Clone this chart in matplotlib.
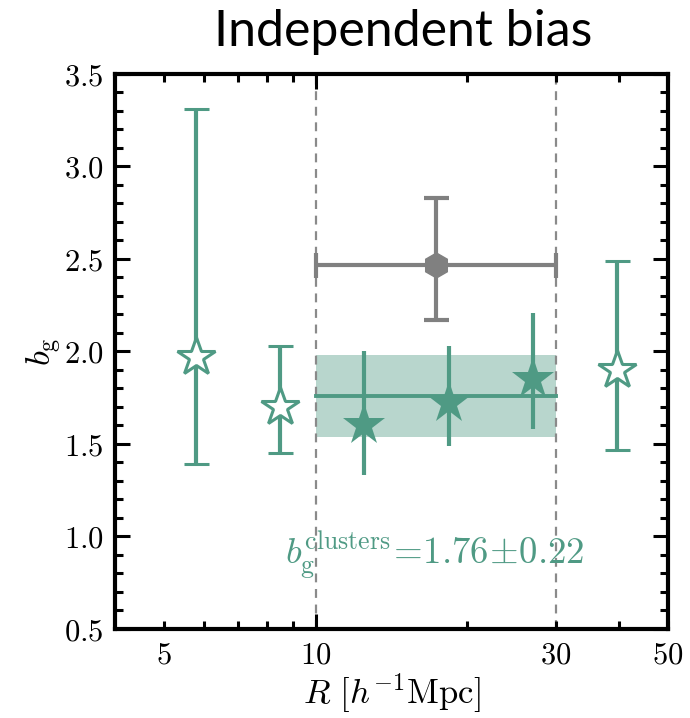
import numpy as np
import matplotlib
matplotlib.use("Agg")
import matplotlib.pyplot as plt
from matplotlib.ticker import FixedLocator, FixedFormatter, MultipleLocator

plt.rcParams['mathtext.fontset'] = 'cm'

# open stars (outside fitting range)
R_open = [5.8, 8.5, 39.7]
b_open = [1.97, 1.70, 1.90]
lo_open = [1.39, 1.45, 1.47]
hi_open = [3.31, 2.03, 2.49]

# filled stars (inside fitting range)
R_fill = [12.5, 18.4, 27.0]
b_fill = [1.60, 1.72, 1.85]
lo_fill = [1.33, 1.49, 1.58]
hi_fill = [2.00, 2.03, 2.21]

# grey hexagon, averaged over 10-30
R_avg = 17.3
R_range = [10, 30]
b_avg = 2.47
lo_avg, hi_avg = 2.17, 2.83

# cluster bias fit
b_cl = 1.76
b_cl_err = 0.22

green = '#4f9a84'
grey = '#808080'

fig = plt.figure(figsize=(6.9, 7.18), dpi=100)
ax = fig.add_axes([0.1667, 0.124, 0.8014, 0.773])

# vertical dashed limits
for r in R_range:
    ax.axvline(r, color='#8a8a8a', ls=(0, (4, 3)), lw=1.6, zorder=1)

# band + line for cluster bias
ax.fill_between(R_range, b_cl - b_cl_err, b_cl + b_cl_err, color=green, alpha=0.4, lw=0, zorder=0)
ax.plot(R_range, [b_cl, b_cl], color=green, lw=2.8, zorder=2)

ebkw = dict(elinewidth=3.0, capsize=9, capthick=3.0, ls='none')

b_open = np.array(b_open)
ax.errorbar(R_open, b_open, yerr=[b_open - lo_open, np.array(hi_open) - b_open],
            color=green, marker='*', ms=29, mfc='white', mec=green, mew=2.2, zorder=3, **ebkw)

b_fill = np.array(b_fill)
ax.errorbar(R_fill, b_fill, yerr=[b_fill - lo_fill, np.array(hi_fill) - b_fill],
            color=green, marker='*', ms=32, mfc=green, mec=green, mew=0, zorder=3, **ebkw)

ax.errorbar([R_avg], [b_avg], yerr=[[b_avg - lo_avg], [hi_avg - b_avg]],
            xerr=[[R_avg - R_range[0]], [R_range[1] - R_avg]],
            color=grey, marker='h', ms=18, mfc=grey, mec=grey, zorder=3, **ebkw)

ax.text(8.7, 0.85, r'$b_{\rm g}^{\rm clusters}\!=\!1.76\!\pm\!0.22$',
        color=green, fontsize=26.5, ha='left', va='baseline', zorder=4)

ax.set_xscale('log')
ax.set_xlim(4, 50)
ax.set_ylim(0.5, 3.5)

ax.xaxis.set_major_locator(FixedLocator([10]))
ax.xaxis.set_major_formatter(FixedFormatter([r'$10$']))
ax.xaxis.set_minor_locator(FixedLocator([5, 6, 7, 8, 9, 20, 30, 40, 50]))
ax.xaxis.set_minor_formatter(FixedFormatter([r'$5$', '', '', '', '', '', r'$30$', '', r'$50$']))

yt = [0.5, 1.0, 1.5, 2.0, 2.5, 3.0, 3.5]
ax.yaxis.set_major_locator(FixedLocator(yt))
ax.yaxis.set_major_formatter(FixedFormatter([r'$%.1f$' % v for v in yt]))
ax.yaxis.set_minor_locator(MultipleLocator(0.1))

ax.tick_params(which='both', direction='in', top=True, right=True, width=2.2, labelsize=22, pad=8)
ax.tick_params(which='major', length=11)
ax.tick_params(which='minor', length=5.5, labelsize=22, pad=8)
for s in ax.spines.values():
    s.set_linewidth(3)

ax.set_xlabel(r'$R\ [h^{-1}{\rm Mpc}]$', fontsize=25, labelpad=2)
ax.set_ylabel(r'$b_{\rm g}$', fontsize=25, labelpad=0)

fig.text(0.585, 0.955, 'Independent bias', fontsize=36, family='Lato', ha='center', va='center')

fig.savefig('out.png', dpi=100)
